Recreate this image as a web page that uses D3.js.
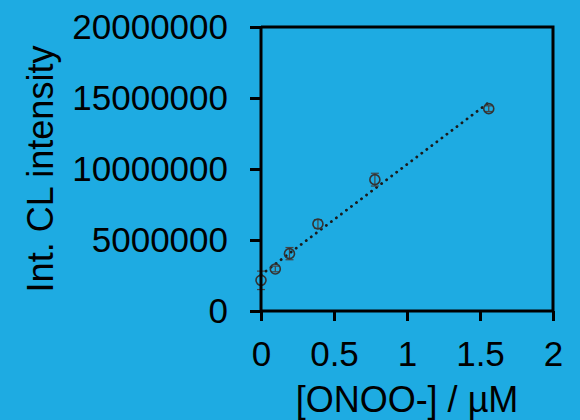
<!DOCTYPE html>
<html>
<head>
<meta charset="utf-8">
<script src="https://cdn.jsdelivr.net/npm/d3@7"></script>
<style>
  body { margin: 0; background: #1eabe2; }
  svg { display: block; }
  text { font-family: "Liberation Sans", Arial, sans-serif; fill: #000; }
</style>
</head>
<body>
<div id="chart"></div>
<script>
// concentrations (uM) and integrated CL intensity, with error
var concentrations = [0, 0.098, 0.195, 0.39, 0.78, 1.56];
var intensities = [2160000, 2960000, 4040000, 6130000, 9250000, 14250000];
var errors = [650000, 200000, 430000, 300000, 450000, 200000];
var xTicks = [0, 0.5, 1, 1.5, 2];
var yTicks = [0, 5000000, 10000000, 15000000, 20000000];

var width = 580, height = 420;
var margin = {top: 27, right: 27, bottom: 109, left: 261};

var svg = d3.select("#chart").append("svg")
    .attr("width", width)
    .attr("height", height);

var x = d3.scaleLinear().domain([0, 2]).range([margin.left, width - margin.right]);
var y = d3.scaleLinear().domain([0, 20000000]).range([height - margin.bottom, margin.top]);

// linear fit through the points
var mx = d3.mean(concentrations), my = d3.mean(intensities);
var sxy = d3.sum(concentrations, function(c, i){ return (c - mx) * (intensities[i] - my); });
var sxx = d3.sum(concentrations, function(c){ return (c - mx) * (c - mx); });
var slope = sxy / sxx, intercept = my - slope * mx;
var xMax = d3.max(concentrations);

svg.append("line")
    .attr("x1", x(0)).attr("y1", y(intercept))
    .attr("x2", x(xMax)).attr("y2", y(intercept + slope * xMax))
    .attr("stroke", "#1a1a1a")
    .attr("stroke-width", 2.8)
    .attr("stroke-linecap", "round")
    .attr("stroke-dasharray", "0.1,6.2");

// error bars
var data = concentrations.map(function(c, i){ return {x: c, y: intensities[i], e: errors[i]}; });
var eb = svg.append("g").attr("stroke", "#444").attr("stroke-width", 1.2);
data.forEach(function(d){
    eb.append("line").attr("x1", x(d.x)).attr("x2", x(d.x))
        .attr("y1", y(d.y - d.e)).attr("y2", y(d.y + d.e));
    [d.y - d.e, d.y + d.e].forEach(function(v){
        eb.append("line").attr("x1", x(d.x) - 4).attr("x2", x(d.x) + 4)
            .attr("y1", y(v)).attr("y2", y(v));
    });
});

// markers
svg.selectAll(".pt")
    .data(data)
    .enter()
    .append("circle")
    .attr("class", "pt")
    .attr("cx", function(d){ return x(d.x); })
    .attr("cy", function(d){ return y(d.y); })
    .attr("r", 5)
    .attr("fill", "none")
    .attr("stroke", "#333")
    .attr("stroke-width", 1.6);

// frame (top and right)
svg.append("path")
    .attr("d", "M" + x(0) + "," + y(20000000) + "H" + x(2) + "V" + y(0))
    .attr("fill", "none")
    .attr("stroke", "#000")
    .attr("stroke-width", 3);

// axes
var xAxis = svg.append("g")
    .attr("transform", "translate(0," + y(0) + ")")
    .call(d3.axisBottom(x).tickValues(xTicks).tickSize(10).tickPadding(20)
        .tickFormat(function(d){ return String(d); }));
var yAxis = svg.append("g")
    .attr("transform", "translate(" + x(0) + ",0)")
    .call(d3.axisLeft(y).tickValues(yTicks).tickSize(11).tickPadding(22)
        .tickFormat(function(d){ return String(d); }));

[xAxis, yAxis].forEach(function(a){
    a.select(".domain").attr("stroke", "#000").attr("stroke-width", 3);
    a.selectAll(".tick line").attr("stroke", "#000").attr("stroke-width", 3);
    a.selectAll(".tick text")
        .style("font-family", "'Liberation Sans', Arial, sans-serif")
        .style("font-size", "35px")
        .attr("fill", "#000");
});
xAxis.select(".domain").attr("d", "M" + x(0) + ",0H" + x(2));
yAxis.select(".domain").attr("d", "M0," + y(0) + "V" + y(20000000));

// axis titles
svg.append("text")
    .attr("x", (x(0) + x(2)) / 2)
    .attr("y", 412)
    .attr("text-anchor", "middle")
    .style("font-size", "36px")
    .text("[ONOO-] / µM");

svg.append("text")
    .attr("transform", "translate(53," + (y(0) + y(20000000)) / 2 + ") rotate(-90)")
    .attr("text-anchor", "middle")
    .style("font-size", "36px")
    .text("Int. CL intensity");
</script>
</body>
</html>
